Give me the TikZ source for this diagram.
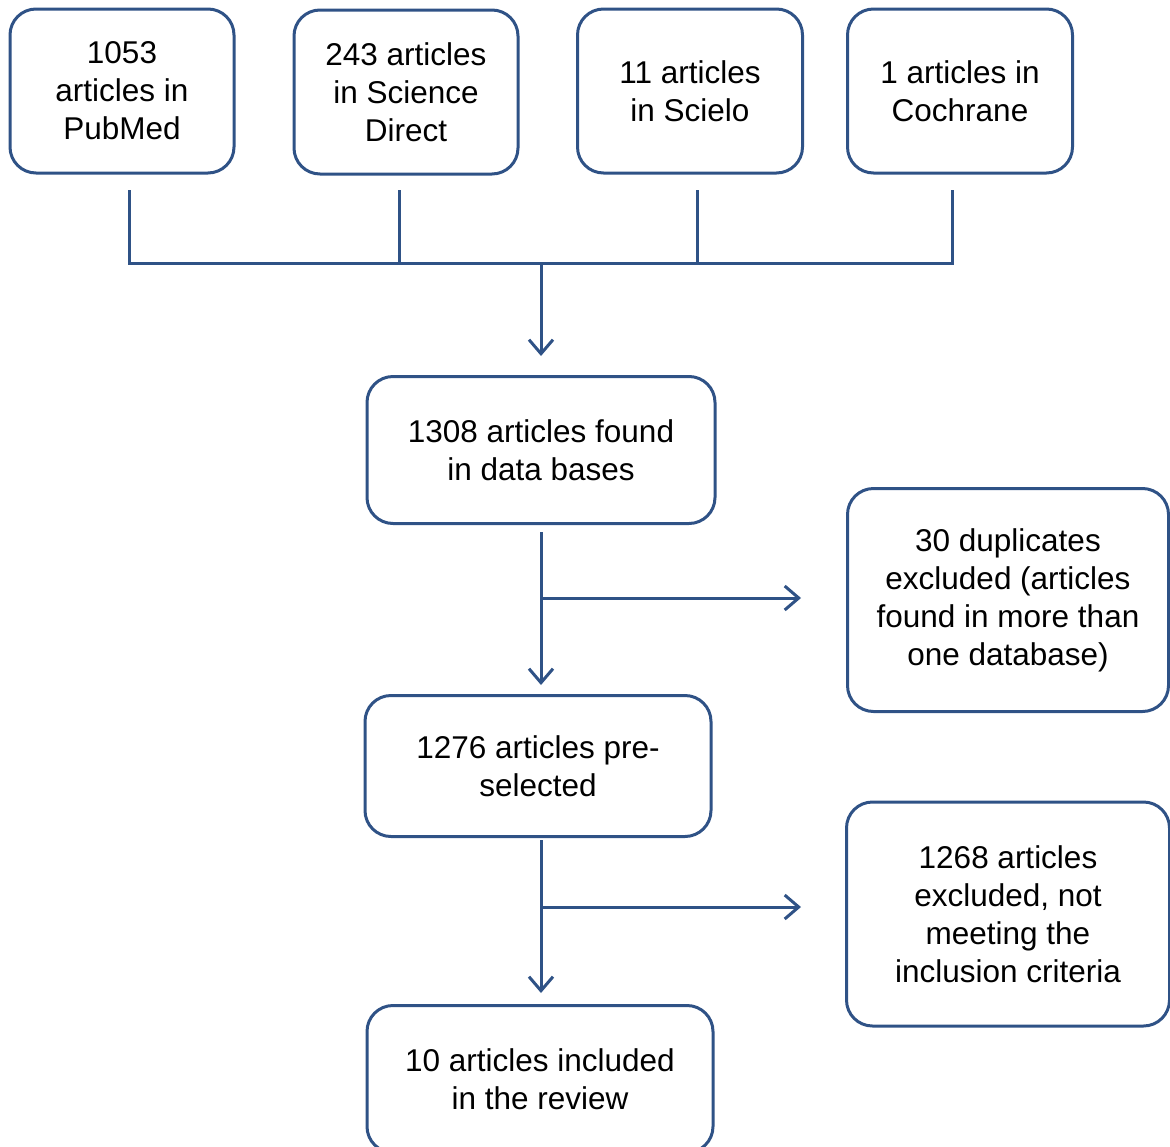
\documentclass[tikz,border=0pt]{standalone}
\usepackage{fontspec}
\setmainfont{Liberation Sans}
\usetikzlibrary{arrows.meta,calc}
\definecolor{flowblue}{RGB}{47,82,134}
\begin{document}
\begin{tikzpicture}[
  x=1pt, y=1pt,
  box/.style={
    draw=flowblue,
    line width=3pt,
    rounded corners=26pt,
    align=center,
    inner sep=0pt,
    font=\fontsize{31.5}{38}\selectfont
  },
  link/.style={
    draw=flowblue,
    line width=3pt,
    -{Straight Barb[length=14pt,width=24pt,line width=3pt]}
  },
  bus/.style={draw=flowblue, line width=3pt}
]
\useasboundingbox (0,0) rectangle (1170,-1146);
% source databases
\node[box, minimum width=224pt, minimum height=164pt] (pubmed) at (122,-91) {1053\\articles in\\PubMed};
\node[box, minimum width=224pt, minimum height=164pt] (scidir) at (406,-92) {243 articles\\in Science\\Direct};
\node[box, minimum width=225pt, minimum height=164pt] (scielo) at (690,-91) {11 articles\\in Scielo};
\node[box, minimum width=225pt, minimum height=164pt] (cochrane) at (960,-91) {1 articles in\\Cochrane};
% main flow
\node[box, minimum width=348pt, minimum height=147pt] (found) at (541,-450) {1308 articles found\\in data bases};
\node[box, minimum width=346pt, minimum height=141pt] (presel) at (538,-766) {1276 articles pre-\\selected};
\node[box, minimum width=346pt, minimum height=147pt] (review) at (540,-1079) {10 articles included\\in the review};
% exclusions
\node[box, minimum width=321pt, minimum height=223pt] (dup) at (1008,-600) {30 duplicates\\excluded (articles\\found in more than\\one database)};
\node[box, minimum width=323pt, minimum height=224pt] (excl) at (1008,-914) {1268 articles\\excluded, not\\meeting the\\inclusion criteria};
% merging lines
\coordinate (s1) at (129,-190);
\coordinate (s2) at (399,-190);
\coordinate (s3) at (697,-190);
\coordinate (s4) at (952,-190);
\coordinate (join) at (541,-263);
\draw[bus] (s1) |- (join -| s4) -- (s4);
\draw[bus] (s2) -- (s2 |- join);
\draw[bus] (s3) -- (s3 |- join);
\draw[link, shorten >=19pt] (join) -- (join |- found.north);
% steps
\coordinate (top1) at ($(found.south)+(0,-7)$);
\coordinate (top2) at ($(presel.south)+(3,-2)$);
\draw[link, shorten >=9pt] (top1) -- (top1 |- presel.north);
\draw[link, shorten >=11pt] (top2) -- (top2 |- review.north);
\coordinate (b1) at (541,-598);
\coordinate (b2) at (541,-907);
\draw[link, shorten >=45pt] (b1) -- (b1 -| dup.west);
\draw[link, shorten >=44pt] (b2) -- (b2 -| excl.west);
\end{tikzpicture}
\end{document}
